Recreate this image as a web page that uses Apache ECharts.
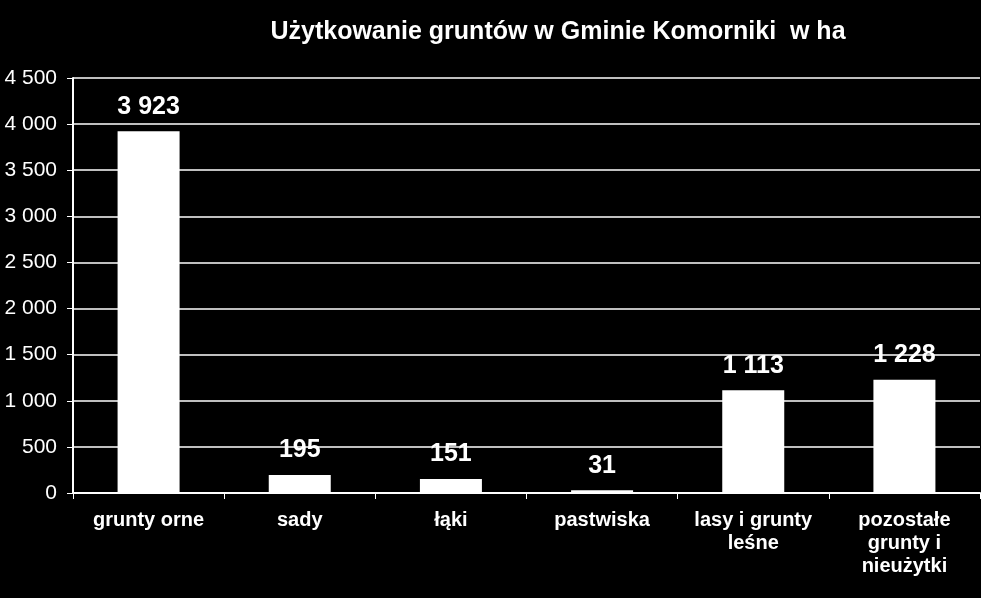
<!DOCTYPE html>
<html>
<head>
<meta charset="utf-8">
<script src="https://cdn.jsdelivr.net/npm/echarts@6/dist/echarts.min.js"></script>
<style>
  html, body { margin: 0; padding: 0; background: #000; }
  #chart { width: 981px; height: 598px; }
</style>
</head>
<body>
<div id="chart"></div>
<script>
// land use categories (labels wrap like the original)
const categories = ['grunty orne', 'sady', 'łąki', 'pastwiska', 'lasy i grunty\nleśne', 'pozostałe\ngrunty i\nnieużytki'];
const areaHa = [3923, 195, 151, 31, 1113, 1228];
const yTicks = [0, 500, 1000, 1500, 2000, 2500, 3000, 3500, 4000, 4500];

// "3923" -> "3 923"
function spaced(v) {
  return String(v).replace(/\B(?=(\d{3})+(?!\d))/g, ' ');
}

const chart = echarts.init(document.getElementById('chart'), null, { renderer: 'canvas' });

chart.setOption({
  backgroundColor: '#000',
  animation: false,
  textStyle: { fontFamily: 'Liberation Sans, Arial, sans-serif' },
  title: {
    text: 'Użytkowanie gruntów w Gminie Komorniki  w ha',
    left: 553,
    textAlign: 'center',
    top: 15,
    textStyle: { color: '#fff', fontSize: 25, fontWeight: 'bold' }
  },
  grid: { left: 73, right: 1, top: 78, bottom: 105 },
  xAxis: {
    type: 'category',
    data: categories,
    axisLine: { lineStyle: { color: '#fff', width: 2 } },
    axisTick: { show: true, length: 6, lineStyle: { color: '#fff', width: 1 } },
    axisLabel: {
      color: '#fff', fontSize: 20, fontWeight: 'bold',
      margin: 16, lineHeight: 23, interval: 0
    }
  },
  yAxis: {
    type: 'value',
    min: yTicks[0],
    max: yTicks[yTicks.length - 1],
    interval: 500,
    axisLine: { show: true, lineStyle: { color: '#fff', width: 2 } },
    axisTick: { show: true, length: 6, lineStyle: { color: '#fff' } },
    splitLine: { lineStyle: { color: '#fff', width: 1.5 } },
    axisLabel: {
      color: '#fff', fontSize: 21, margin: 16,
      formatter: v => spaced(v)
    }
  },
  series: [{
    type: 'bar',
    data: areaHa,
    barWidth: 62,
    itemStyle: { color: '#fff' },
    label: {
      show: true,
      position: 'top',
      distance: 12,
      color: '#fff',
      fontSize: 25,
      fontWeight: 'bold',
      formatter: p => spaced(p.value)
    }
  }]
});
</script>
</body>
</html>
